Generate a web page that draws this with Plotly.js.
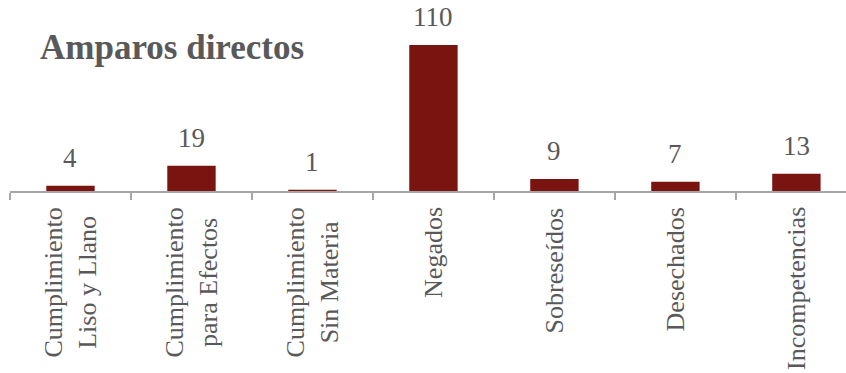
<!DOCTYPE html>
<html>
<head>
<meta charset="utf-8">
<script src="https://cdn.plot.ly/plotly-3.0.1.min.js"></script>
<style>html,body{margin:0;padding:0;background:#fff;}#chart{width:846px;height:373px;}</style>
</head>
<body>
<div id="chart"></div>
<script>
const categories = ['Cumplimiento<br>Liso y Llano', 'Cumplimiento<br>para Efectos', 'Cumplimiento<br>Sin Materia', 'Negados', 'Sobreseídos', 'Desechados', 'Incompetencias'];
const values = [4, 19, 1, 110, 9, 7, 13];
const chartTitle = 'Amparos directos';

const textColor = '#595959';
const barColor = '#7a1411';
const serif = 'Liberation Serif, Times New Roman, serif';

const valueLabels = categories.map((c, i) => ({
  x: c, y: values[i], xref: 'x', yref: 'y',
  text: String(values[i]), showarrow: false,
  yanchor: 'bottom', xanchor: 'center', yshift: 11,
  font: {family: serif, size: 27, color: textColor}
}));

const categoryLabels = categories.map((c) => ({
  x: c, y: 0, xref: 'x', yref: 'y',
  text: c, showarrow: false, textangle: -90, align: 'center',
  yanchor: 'top', xanchor: 'center', yshift: -14,
  font: {family: serif, size: 26, color: textColor}
}));

const data = [{
  type: 'bar', x: categories, y: values, width: 0.4,
  marker: {color: barColor}, hoverinfo: 'none'
}];

const layout = {
  width: 846, height: 373,
  margin: {l: 10, r: 0, t: 0, b: 182},
  paper_bgcolor: '#fff', plot_bgcolor: '#fff',
  showlegend: false,
  title: {
    text: '<b>' + chartTitle + '</b>',
    x: 40 / 846, xanchor: 'left', xref: 'container',
    y: 1 - 47 / 373, yanchor: 'middle', yref: 'container',
    font: {family: serif, size: 35, color: textColor}
  },
  xaxis: {
    type: 'category', range: [-0.5, 6.41],
    tickson: 'boundaries', ticks: 'outside', ticklen: 7, tickwidth: 1.3, tickcolor: '#a6a6a6',
    showline: true, linecolor: '#a6a6a6', linewidth: 1.5,
    showgrid: false, zeroline: false, showticklabels: false,
    fixedrange: true
  },
  yaxis: {
    range: [0, 143.9], visible: false, showgrid: false, zeroline: false, fixedrange: true
  },
  annotations: valueLabels.concat(categoryLabels)
};

Plotly.newPlot('chart', data, layout, {displayModeBar: false, staticPlot: true});
</script>
</body>
</html>
